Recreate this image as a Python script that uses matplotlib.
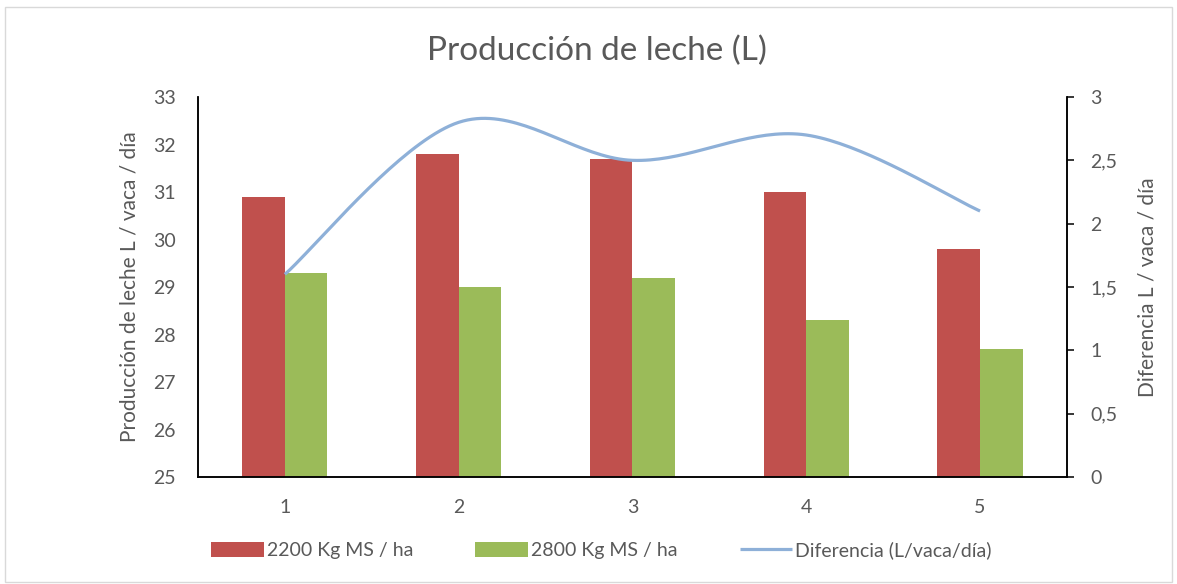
import matplotlib
matplotlib.use("Agg")
import matplotlib.pyplot as plt
import numpy as np
from matplotlib.patches import Rectangle

plt.rcParams['font.family'] = ['Lato', 'DejaVu Sans']

categories = ["1", "2", "3", "4", "5"]
serie_2200 = [30.9, 31.8, 31.7, 31.0, 29.8]
serie_2800 = [29.3, 29.0, 29.2, 28.3, 27.7]
diferencia = [1.6, 2.8, 2.5, 2.7, 2.1]

red = "#c0504d"
green = "#9bbb59"
blue = "#8eb0d8"
grey = "#595959"


def smooth(xs, ys, n=40):
    # Excel-like smoothed line: cubic Bezier with control points from neighbours
    xs = np.asarray(xs, float)
    ys = np.asarray(ys, float)
    px, py = [], []
    for i in range(len(xs) - 1):
        i0 = max(i - 1, 0)
        i3 = min(i + 2, len(xs) - 1)
        p0 = np.array([xs[i], ys[i]])
        p3 = np.array([xs[i + 1], ys[i + 1]])
        c1 = p0 + (p3 - np.array([xs[i0], ys[i0]])) / 6.0
        c2 = p3 - (np.array([xs[i3], ys[i3]]) - p0) / 6.0
        t = np.linspace(0, 1, n)[:, None]
        pts = ((1 - t) ** 3) * p0 + 3 * ((1 - t) ** 2) * t * c1 + 3 * (1 - t) * t ** 2 * c2 + t ** 3 * p3
        px.extend(pts[:, 0])
        py.extend(pts[:, 1])
    return px, py


fig = plt.figure(figsize=(11.77, 5.84), dpi=100)
fig.patches.append(Rectangle((0.004, 0.004), 0.992, 0.984, transform=fig.transFigure,
                             fill=False, edgecolor="#d9d9d9", linewidth=1))
ax = fig.add_axes([0.1682, 0.1832, 0.7383, 0.6507])
ax2 = ax.twinx()

x = np.arange(1, len(categories) + 1)
w = 0.245
b1 = ax.bar(x - w / 2, np.array(serie_2200) - 25, width=w, bottom=25, color=red,
            label="2200 Kg MS / ha")
b2 = ax.bar(x + w / 2, np.array(serie_2800) - 25, width=w, bottom=25, color=green,
            label="2800 Kg MS / ha")

sx, sy = smooth(x, diferencia)
l1, = ax2.plot(sx, sy, color=blue, linewidth=2.3, label="Diferencia (L/vaca/día)",
               solid_capstyle="butt")

ax.set_xlim(0.5, 5.5)
ax.set_ylim(25, 33)
ax2.set_ylim(0, 3)
ax.set_xticks(x)
ax.set_xticklabels(categories)
ax.set_yticks(range(25, 34))
ax2.set_yticks([0, 0.5, 1, 1.5, 2, 2.5, 3])
ax2.set_yticklabels(["0", "0,5", "1", "1,5", "2", "2,5", "3"])

for a in (ax, ax2):
    a.spines["top"].set_visible(False)
    for s in ("left", "right", "bottom"):
        a.spines[s].set_linewidth(1.1)
        a.spines[s].set_color("black")

ax.tick_params(axis="y", length=0, pad=16, labelsize=14, labelcolor=grey)
ax.tick_params(axis="x", length=0, pad=16, labelsize=14, labelcolor=grey)
ax2.tick_params(axis="y", length=5, width=1.1, pad=12, labelsize=14, labelcolor=grey)

ax.set_ylabel("Producción de leche L / vaca / día", fontsize=15, color=grey, labelpad=10)
ax2.set_ylabel("Diferencia L / vaca / día", fontsize=15, color=grey, labelpad=14)

fig.text(0.507, 0.912, "Producción de leche (L)", ha="center", va="center",
         fontsize=24, color=grey)

fig.legend(handles=[b1, b2, l1], loc="center", bbox_to_anchor=(0.511, 0.058), ncol=3,
           frameon=False, fontsize=14, labelcolor=grey, handlelength=2.7,
           handleheight=0.8, handletextpad=0.15, columnspacing=3.2)

fig.savefig("out.png", dpi=100)
